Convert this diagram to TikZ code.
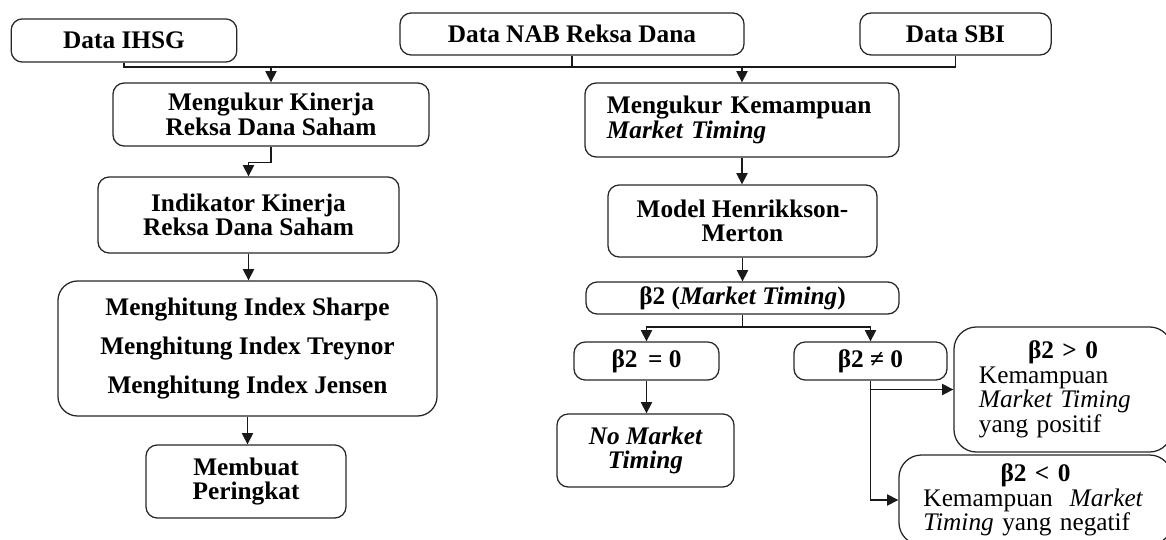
\documentclass[tikz,border=0pt]{standalone}
\usepackage{fontspec}
\setmainfont{Liberation Serif}
\usetikzlibrary{arrows.meta}

\begin{document}
\begin{tikzpicture}[x=0.025cm,y=-0.025cm, % 1 piksel = 0.025 cm, sumbu y ke bawah
  kotak/.style={draw=black!85, line width=0.9pt, rounded corners=8pt,
    align=center, inner sep=2pt, font=\ukuran\bfseries},
  garis/.style={draw=black!90, line width=0.9pt},
  panah/.style={garis, -{Triangle[length=8pt,width=8pt]}}]

% --------- PARAMETER ----------
\def\ukuran{\fontsize{18}{17.5}\selectfont} % ukuran huruf
\def\ybus{67}      % garis pengumpul data
\def\ycabang{327}  % percabangan beta2
% --------------------------------

\useasboundingbox (0,0) rectangle (1166,540);
\clip (0,0) rectangle (1166,540);

% Data masukan
\node[kotak, minimum width=5.64cm, minimum height=1.08cm] (ihsg) at (124,40.5) {Data IHSG};
\node[kotak, minimum width=8.6cm, minimum height=1.05cm] (nab) at (572,34) {Data NAB Reksa Dana};
\node[kotak, minimum width=4.78cm, minimum height=1.05cm] (sbi) at (955.5,34) {Data SBI};

% Kinerja (kiri)
\node[kotak, minimum width=7.9cm, minimum height=1.575cm] (kinerja) at (271,114.5) {Mengukur Kinerja\\Reksa Dana Saham};
\node[kotak, minimum width=7.525cm, minimum height=1.9cm] (indikator) at (248.5,215) {Indikator Kinerja\\Reksa Dana Saham};
\node[kotak, rounded corners=14pt, minimum width=9.475cm, minimum height=3.375cm] (hitung) at (247.5,348.5)
  {Menghitung Index Sharpe\\[10pt]Menghitung Index Treynor\\[10pt]Menghitung Index Jensen};
\node[kotak, minimum width=5cm, minimum height=1.825cm] (peringkat) at (246,481.5) {Membuat\\Peringkat};

% Market timing (kanan)
\node[kotak, align=left, text width=6.75cm, minimum width=7.85cm, minimum height=1.85cm] (kemampuan) at (742,120)
  {Mengukur Kemampuan\\\textit{Market Timing}};
\node[kotak, minimum width=6.725cm, minimum height=1.8cm] (merton) at (742.5,221) {Model Henrikkson-\\Merton};
\node[kotak, minimum width=7.825cm, minimum height=0.8cm] (beta) at (742.5,298) {β2 (\textit{Market Timing})};
\node[kotak, minimum width=3.625cm, minimum height=0.95cm] (nol) at (646.5,361) {β2 \,= 0};
\node[kotak, minimum width=3.825cm, minimum height=0.95cm] (tidaknol) at (870.5,361) {β2 ≠ 0};
\node[kotak, font=\ukuran\bfseries\itshape, minimum width=4.425cm, minimum height=1.825cm] (nomt) at (645.5,450.5) {No Market\\Timing};
\node[kotak, rounded corners=16pt, font=\ukuran, align=left, text width=4.2cm,
  minimum width=5.45cm, minimum height=3.125cm] (positif) at (1063,389.5)
  {\makebox[\linewidth]{\textbf{β2 > 0}}\\Kemampuan\\\textit{Market Timing}\\yang positif};
\node[kotak, rounded corners=16pt, font=\ukuran, align=left, text width=5.6cm,
  minimum width=6.825cm, minimum height=2.25cm] (negatif) at (1035.5,500)
  {\makebox[\linewidth]{\textbf{β2 < 0}}\\Kemampuan~~\textit{Market}\\\textit{Timing} yang negatif};

% Garis pengumpul data
\draw[garis] (ihsg.south) -- (ihsg.south |- 0,\ybus) -- (sbi.south |- 0,\ybus) -- (sbi.south);
\draw[garis] (nab.south) -- (nab.south |- 0,\ybus);
\draw[panah] (kinerja.north |- 0,\ybus) -- (kinerja.north);
\draw[panah] (kemampuan.north |- 0,\ybus) -- (kemampuan.north);

% Alur kiri
\draw[panah] (kinerja.south) -- ++(0,16) -| (indikator.north);
\draw[panah] (indikator.south) -- (indikator.south |- hitung.north);
\draw[panah] (hitung.south) -- (hitung.south |- peringkat.north);

% Alur kanan
\draw[panah] (kemampuan.south) -- (kemampuan.south |- merton.north);
\draw[panah] (merton.south) -- (merton.south |- beta.north);
\draw[garis] (beta.south) -- (beta.south |- 0,\ycabang) coordinate (cabang);
\draw[panah] (cabang) -| (nol.north);
\draw[panah] (cabang) -| (tidaknol.north);
\draw[panah] (nol.south) -- (nol.south |- nomt.north);
\draw[panah] (tidaknol.south) |- (positif.west);
\draw[panah] (tidaknol.south) |- (negatif.west);

\end{tikzpicture}
\end{document}
